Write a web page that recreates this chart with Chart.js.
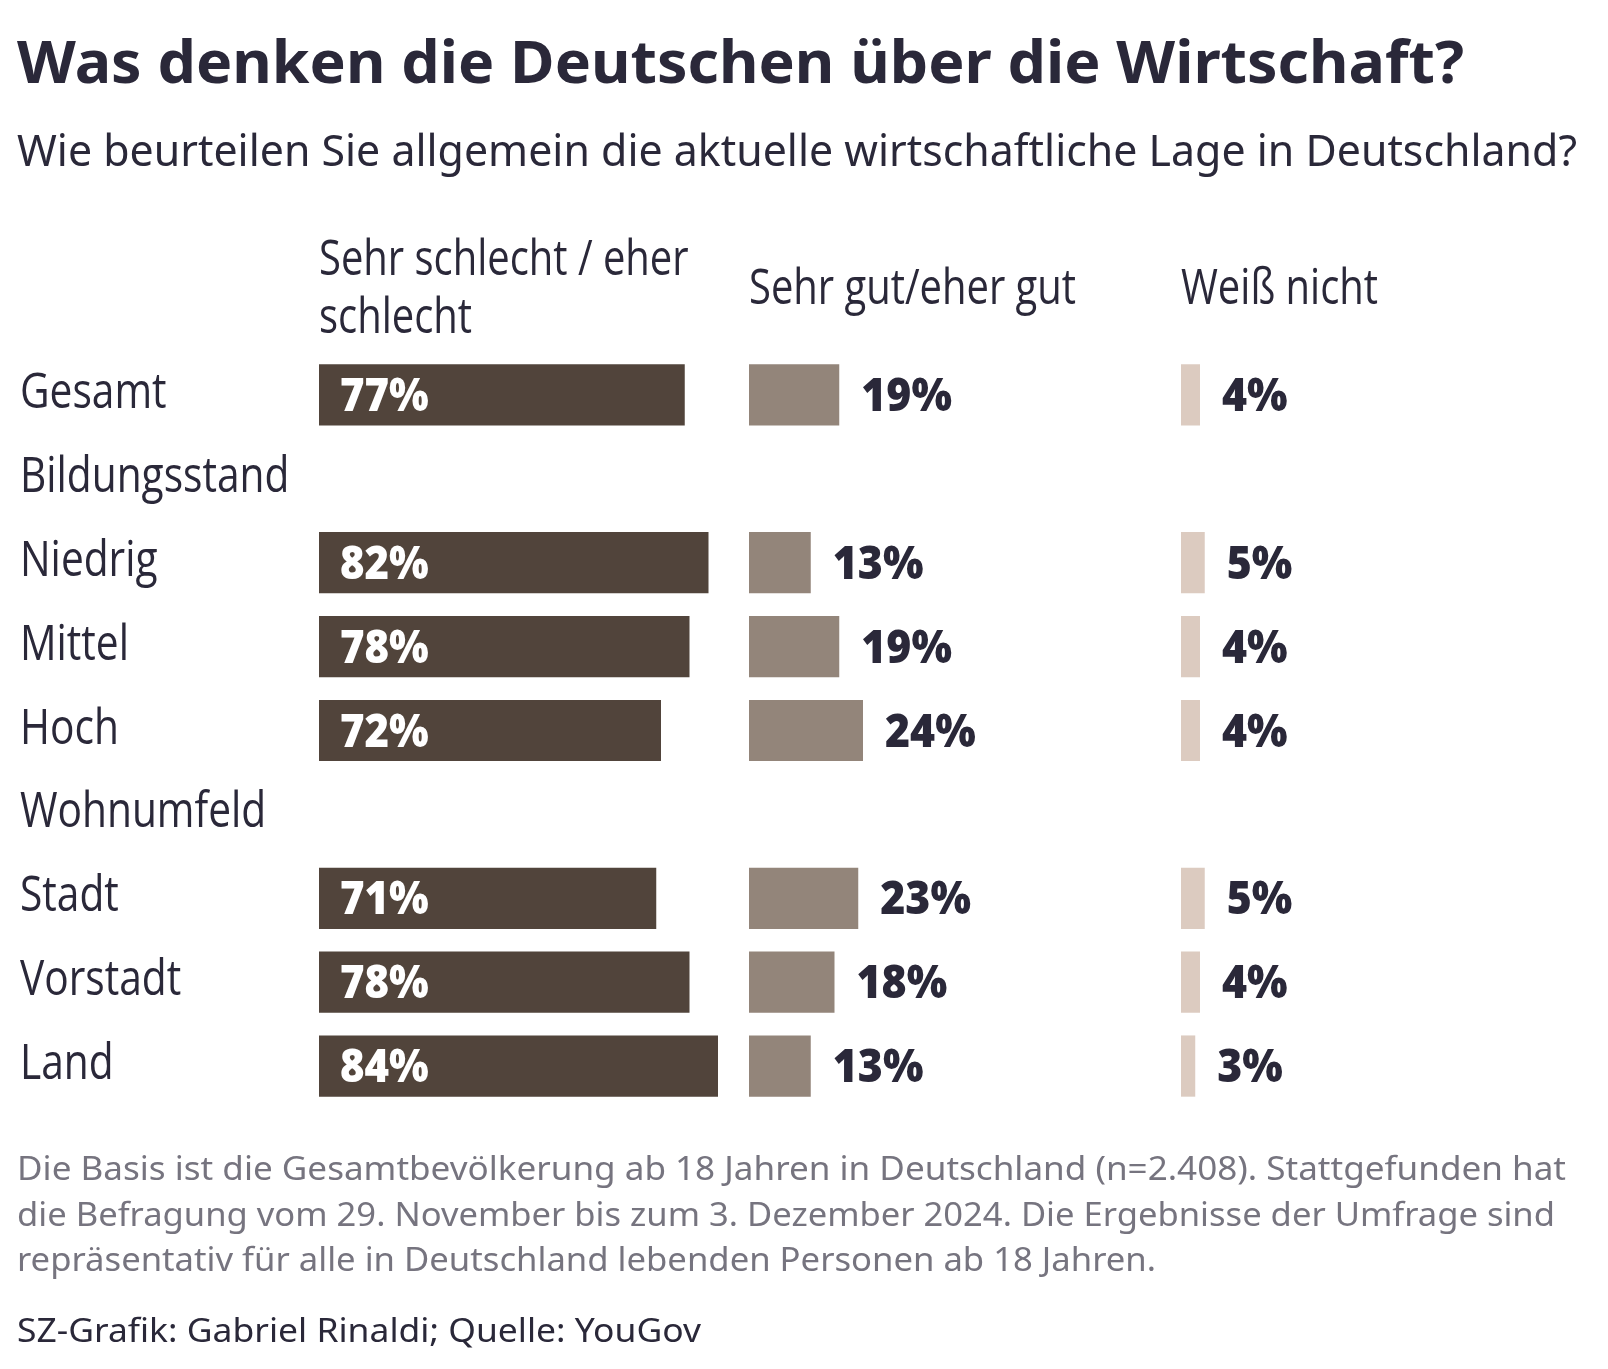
<!DOCTYPE html>
<html lang="de">
<head>
<meta charset="utf-8">
<title>Was denken die Deutschen über die Wirtschaft?</title>
<script src="https://cdn.jsdelivr.net/npm/chart.js@4.4.1/dist/chart.umd.min.js"></script>
<style>
  html, body { margin: 0; padding: 0; background: #fff; }
  canvas { display: block; }
</style>
</head>
<body>
<canvas id="grafik" width="1608" height="1369"></canvas>
<script>
// Daten
const kategorien = ["Gesamt", "Bildungsstand", "Niedrig", "Mittel", "Hoch", "Wohnumfeld", "Stadt", "Vorstadt", "Land"];
const schlecht = [77, null, 82, 78, 72, null, 71, 78, 84];
const gut = [19, null, 13, 19, 24, null, 23, 18, 13];
const weissNicht = [4, null, 5, 4, 4, null, 5, 4, 3];
const spalten = [["Sehr schlecht / eher", "schlecht"], ["Sehr gut/eher gut"], ["Weiß nicht"]];

const titel = "Was denken die Deutschen über die Wirtschaft?";
const untertitel = "Wie beurteilen Sie allgemein die aktuelle wirtschaftliche Lage in Deutschland?";
const fussnote = [
    "Die Basis ist die Gesamtbevölkerung ab 18 Jahren in Deutschland (n=2.408). Stattgefunden hat",
    "die Befragung vom 29. November bis zum 3. Dezember 2024. Die Ergebnisse der Umfrage sind",
    "repräsentativ für alle in Deutschland lebenden Personen ab 18 Jahren."
];
const quelle = "SZ-Grafik: Gabriel Rinaldi; Quelle: YouGov";

// Stil
const TEXT = "#2a2839";
const GRAU = "#76747f";
const FARBEN = ["#51443b", "#93857a", "#dccbc0"];
const PX_PRO_PROZENT = 4.75;
const spaltenBreite = [430, 432, 398];
const SCHMAL = "49px 'Open Sans'";
const SCHMAL_FETT = "800 46px 'Open Sans'";
const fussBreite = [1549, 1538, 1139];

function schreibe(ctx, text, x, y, font, farbe, stauchung) {
    ctx.save();
    ctx.font = font;
    ctx.fillStyle = farbe;
    ctx.textAlign = "left";
    ctx.textBaseline = "alphabetic";
    ctx.translate(x, y);
    ctx.scale(stauchung, 1);
    ctx.fillText(text, 0, 0);
    ctx.restore();
}

function stauchungFuer(ctx, text, font, breite) {
    ctx.save();
    ctx.font = font;
    const w = ctx.measureText(text).width;
    ctx.restore();
    return breite / w;
}

function xAchse(i) {
    return {
        type: "linear",
        position: "top",
        stack: "spalten",
        stackWeight: spaltenBreite[i],
        min: 0,
        max: spaltenBreite[i] / PX_PRO_PROZENT,
        ticks: { display: false },
        grid: { display: false, drawTicks: false },
        border: { display: false }
    };
}

const beschriftung = {
    id: "beschriftung",
    beforeDraw(chart) {
        const ctx = chart.ctx;
        ctx.save();
        ctx.fillStyle = "#ffffff";
        ctx.fillRect(0, 0, chart.width, chart.height);
        ctx.restore();
    },
    afterDatasetsDraw(chart) {
        const ctx = chart.ctx;

        // Werte an den Balken
        chart.data.datasets.forEach((ds, d) => {
            const meta = chart.getDatasetMeta(d);
            meta.data.forEach((balken, i) => {
                const wert = ds.data[i];
                if (wert == null) return;
                if (d === 0) {
                    schreibe(ctx, wert + "%", balken.base + 21, balken.y + 16, SCHMAL_FETT, "#ffffff", 0.91);
                } else {
                    schreibe(ctx, wert + "%", balken.x + 22, balken.y + 16, SCHMAL_FETT, TEXT, 0.93);
                }
            });
        });

        // Zeilenbeschriftung
        const y = chart.scales.y;
        kategorien.forEach((k, i) => {
            schreibe(ctx, k, y.left, y.getPixelForTick(i) + 13, SCHMAL, TEXT, 0.83);
        });

        // Spaltenköpfe
        spalten.forEach((zeilen, s) => {
            const achse = chart.scales["x" + s];
            const start = 304 - (zeilen.length - 1) * 58 / 2;
            zeilen.forEach((z, j) => {
                schreibe(ctx, z, achse.left, start + j * 58, SCHMAL, TEXT, 0.815);
            });
        });
    },
    afterDraw(chart) {
        const ctx = chart.ctx;
        const fTitel = "bold 59px 'Noto Sans'";
        const fUnter = "44px 'Noto Sans'";
        const fNote = "32px 'Noto Sans'";

        schreibe(ctx, titel, 17, 82.5, fTitel, TEXT, stauchungFuer(ctx, titel, fTitel, 1447));
        schreibe(ctx, untertitel, 17, 166, fUnter, TEXT, stauchungFuer(ctx, untertitel, fUnter, 1560));

        fussnote.forEach((z, i) => {
            schreibe(ctx, z, 17, 1180 + i * 45.5, fNote, GRAU, stauchungFuer(ctx, z, fNote, fussBreite[i]));
        });
        schreibe(ctx, quelle, 17, 1342, fNote, TEXT, stauchungFuer(ctx, quelle, fNote, 684));
    }
};

// Achsen oben werden von rechts nach links gestapelt, daher umgekehrte Reihenfolge
const config = {
    type: "bar",
    data: {
        labels: kategorien,
        datasets: [
            { label: "Sehr schlecht / eher schlecht", data: schlecht, xAxisID: "x0", backgroundColor: FARBEN[0] },
            { label: "Sehr gut/eher gut", data: gut, xAxisID: "x1", backgroundColor: FARBEN[1] },
            { label: "Weiß nicht", data: weissNicht, xAxisID: "x2", backgroundColor: FARBEN[2] }
        ]
    },
    options: {
        indexAxis: "y",
        responsive: false,
        animation: false,
        devicePixelRatio: 1,
        datasets: {
            bar: { grouped: false, barPercentage: 0.73, categoryPercentage: 1, borderWidth: 0 }
        },
        layout: { padding: { top: 353, bottom: 261, left: 20, right: 29 } },
        scales: {
            x2: xAchse(2),
            x1: xAchse(1),
            x0: xAchse(0),
            y: {
                type: "category",
                position: "left",
                ticks: { display: false },
                grid: { display: false, drawTicks: false },
                border: { display: false },
                afterFit(scale) { scale.width = 299; }
            }
        },
        plugins: {
            legend: { display: false },
            tooltip: { enabled: false }
        }
    },
    plugins: [beschriftung]
};

new Chart(document.getElementById("grafik"), config);
</script>
</body>
</html>
